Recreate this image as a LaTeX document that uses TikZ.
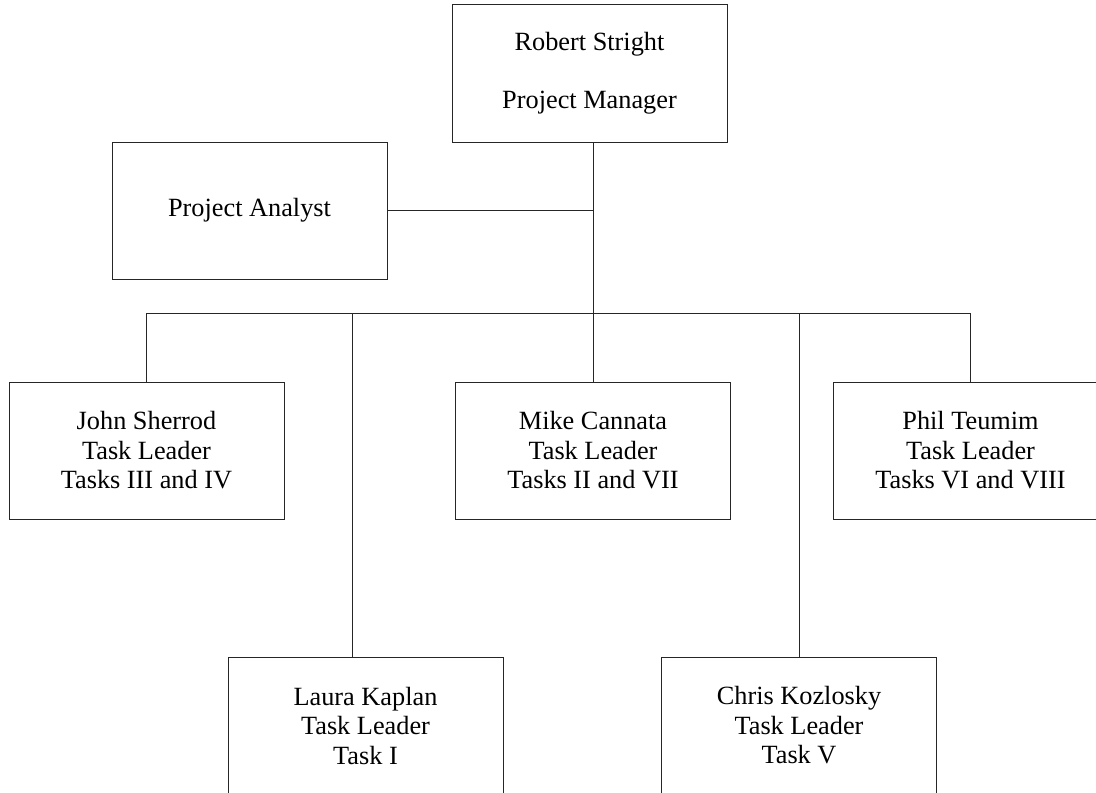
\documentclass[tikz,border=0pt]{standalone}
\usepackage{fontspec}
\setmainfont{Liberation Serif}
\begin{document}
\begin{tikzpicture}[x=1pt,y=-1pt,
  box/.style={draw=black!85, line width=1pt, rectangle, minimum width=275pt, minimum height=137pt, inner sep=0pt, align=center, font=\fontsize{26.3}{29.5}\selectfont},
  conn/.style={draw=black!85, line width=1pt}]
\clip (0,0) rectangle (1096,793);
\fill[white] (0,0) rectangle (1096,793);
\node[box, minimum height=138pt] (pm) at (589.5,73) {Robert Stright\\[28pt]Project Manager};
\node[box] (pa) at (249.5,210.5) {Project Analyst};
\node[box] (john) at (146.5,450.5) {John Sherrod\\Task Leader\\Tasks III and IV};
\node[box] (mike) at (593,450.5) {Mike Cannata\\Task Leader\\Tasks II and VII};
\node[box] (phil) at (970.5,450.5) {Phil Teumim\\Task Leader\\Tasks VI and VIII};
\node[box] (laura) at (365.5,725.5) {Laura Kaplan\\Task Leader\\Task I};
\node[box] (chris) at (799,725.5) {Chris Kozlosky\\Task Leader\\Task V};
\coordinate (a) at (593,210.5);
\coordinate (j) at (593,313);
\coordinate (dJ) at (146.5,313);
\coordinate (dL) at (352.5,313);
\coordinate (dC) at (799,313);
\coordinate (dP) at (970,313);
\draw[conn] (pm.south -| a) -- (j);
\draw[conn] (pa.east) -- (a);
\draw[conn] (dJ) -- (dP);
\draw[conn] (dJ) -- (john.north);
\draw[conn] (dL) -- (dL |- laura.north);
\draw[conn] (j) -- (mike.north);
\draw[conn] (dC) -- (chris.north);
\draw[conn] (dP) -- (dP |- phil.north);
\end{tikzpicture}
\end{document}
